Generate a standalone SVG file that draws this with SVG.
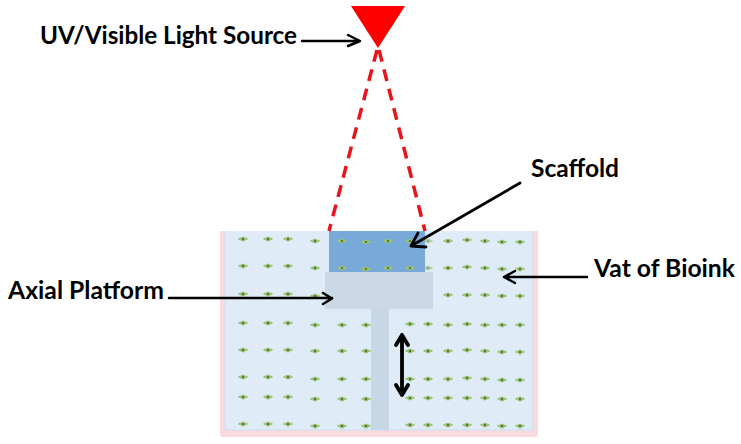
<svg xmlns="http://www.w3.org/2000/svg" xmlns:xlink="http://www.w3.org/1999/xlink" width="741" height="444" viewBox="0 0 741 444">
<style>
text{font-family:Lato,"Open Sans","Liberation Sans",sans-serif;font-weight:700;font-size:25px;fill:#000}
.a{fill:none;stroke:#000;stroke-width:2.500;stroke-linecap:round;stroke-linejoin:round}
.d{fill:none;stroke:#e8141c;stroke-width:3.500;stroke-dasharray:12 8}
</style>
<defs>
<g id="c"><ellipse cx="0" cy="0" rx="4.800" ry="1.400" fill="#9cc474"/><ellipse cx="0" cy="0" rx="2.200" ry="2.500" fill="#96bf6c"/><circle r="0.900" fill="#3a5530"/></g>
</defs>
<rect width="741" height="444" fill="#fff"/>
<g id="vat">
<path d="M220 231H538V434a3 3 0 0 1-3 3H223a3 3 0 0 1-3-3Z" fill="#f9dade"/>
<rect x="225" y="231" width="308" height="199" fill="#dfecf8"/>
<path d="M225 231V430H533V231" fill="none" stroke="#d8e0ee" stroke-width="1.500"/>
</g>
<g id="bioink">
<g id="row1">
<use xlink:href="#c" x="243" y="239"/><use xlink:href="#c" x="268" y="239"/><use xlink:href="#c" x="288" y="239"/><use xlink:href="#c" x="315" y="241"/><use xlink:href="#c" x="428" y="241" opacity=".6"/><use xlink:href="#c" x="448" y="241"/><use xlink:href="#c" x="467" y="240"/><use xlink:href="#c" x="485" y="241"/><use xlink:href="#c" x="502" y="242"/><use xlink:href="#c" x="520" y="242"/>
</g>
<g id="row2">
<use xlink:href="#c" x="243" y="266"/><use xlink:href="#c" x="268" y="266"/><use xlink:href="#c" x="288" y="266"/><use xlink:href="#c" x="315" y="268"/><use xlink:href="#c" x="428" y="268" opacity=".6"/><use xlink:href="#c" x="448" y="268"/><use xlink:href="#c" x="467" y="267"/><use xlink:href="#c" x="485" y="268"/><use xlink:href="#c" x="502" y="269"/><use xlink:href="#c" x="520" y="269"/>
</g>
<g id="row3">
<use xlink:href="#c" x="243" y="294"/><use xlink:href="#c" x="268" y="294"/><use xlink:href="#c" x="288" y="294"/><use xlink:href="#c" x="315" y="296"/><use xlink:href="#c" x="448" y="295"/><use xlink:href="#c" x="467" y="295"/><use xlink:href="#c" x="485" y="295"/><use xlink:href="#c" x="502" y="296"/><use xlink:href="#c" x="520" y="296"/>
</g>
<g id="row4">
<use xlink:href="#c" x="243" y="323"/><use xlink:href="#c" x="268" y="323"/><use xlink:href="#c" x="288" y="323"/><use xlink:href="#c" x="315" y="325"/><use xlink:href="#c" x="342" y="325"/><use xlink:href="#c" x="366" y="325"/><use xlink:href="#c" x="410" y="324"/><use xlink:href="#c" x="428" y="324"/><use xlink:href="#c" x="448" y="325"/><use xlink:href="#c" x="467" y="324"/><use xlink:href="#c" x="485" y="325"/><use xlink:href="#c" x="502" y="325"/><use xlink:href="#c" x="520" y="325"/>
</g>
<g id="row5">
<use xlink:href="#c" x="243" y="350"/><use xlink:href="#c" x="268" y="350"/><use xlink:href="#c" x="288" y="350"/><use xlink:href="#c" x="315" y="351"/><use xlink:href="#c" x="342" y="351"/><use xlink:href="#c" x="366" y="351"/><use xlink:href="#c" x="410" y="351"/><use xlink:href="#c" x="428" y="351"/><use xlink:href="#c" x="448" y="351"/><use xlink:href="#c" x="467" y="350"/><use xlink:href="#c" x="485" y="351"/><use xlink:href="#c" x="502" y="352"/><use xlink:href="#c" x="520" y="352"/>
</g>
<g id="row6">
<use xlink:href="#c" x="243" y="377"/><use xlink:href="#c" x="268" y="377"/><use xlink:href="#c" x="288" y="377"/><use xlink:href="#c" x="315" y="379"/><use xlink:href="#c" x="342" y="379"/><use xlink:href="#c" x="366" y="379"/><use xlink:href="#c" x="410" y="379"/><use xlink:href="#c" x="428" y="379"/><use xlink:href="#c" x="448" y="379"/><use xlink:href="#c" x="467" y="378"/><use xlink:href="#c" x="485" y="379"/><use xlink:href="#c" x="502" y="380"/><use xlink:href="#c" x="520" y="380"/>
</g>
<g id="row7">
<use xlink:href="#c" x="243" y="397"/><use xlink:href="#c" x="268" y="397"/><use xlink:href="#c" x="288" y="397"/><use xlink:href="#c" x="315" y="399"/><use xlink:href="#c" x="342" y="399"/><use xlink:href="#c" x="366" y="399"/><use xlink:href="#c" x="410" y="398"/><use xlink:href="#c" x="428" y="398"/><use xlink:href="#c" x="448" y="398"/><use xlink:href="#c" x="467" y="398"/><use xlink:href="#c" x="485" y="398"/><use xlink:href="#c" x="502" y="399"/><use xlink:href="#c" x="520" y="399"/>
</g>
<g id="row8">
<use xlink:href="#c" x="243" y="424"/><use xlink:href="#c" x="268" y="424"/><use xlink:href="#c" x="288" y="424"/><use xlink:href="#c" x="315" y="426"/><use xlink:href="#c" x="342" y="426"/><use xlink:href="#c" x="366" y="426"/><use xlink:href="#c" x="410" y="425"/><use xlink:href="#c" x="428" y="425"/><use xlink:href="#c" x="448" y="425"/><use xlink:href="#c" x="467" y="425"/><use xlink:href="#c" x="485" y="425"/><use xlink:href="#c" x="502" y="426"/><use xlink:href="#c" x="520" y="426"/>
</g>
</g>
<g id="platform">
<rect x="371" y="309" width="18" height="121" fill="#c8d7e5"/>
<rect x="325" y="272" width="108" height="37" fill="#cbd9e6"/>
</g>
<g id="scaffold">
<rect x="329" y="231" width="96" height="41" fill="#79a9d9"/>
<use xlink:href="#c" x="342" y="241"/><use xlink:href="#c" x="366" y="242"/><use xlink:href="#c" x="388" y="241"/><use xlink:href="#c" x="410" y="241"/>
<use xlink:href="#c" x="342" y="268"/><use xlink:href="#c" x="366" y="269"/><use xlink:href="#c" x="388" y="268"/><use xlink:href="#c" x="410" y="268"/>
</g>
<g id="source"><path d="M351 6H405L378 48Z" fill="#fe0000"/></g>
<g id="connectors">
<path class="d" d="M377 50L329 231"/>
<path class="d" d="M379 50L425 231"/>
<path class="a" d="M302 41H360M348 35L360 41L348 46"/>
<path class="a" style="stroke-width:2.800" d="M520 183L411 246M418 233L411 246L426 247"/>
<path class="a" d="M169 298H332M323 293L332 298.500L323 304"/>
<path class="a" d="M587 277H504M515 271L504 277L515 283"/>
<path class="a" style="stroke-width:3.800" d="M402 335V395M396 345L402 335L408 345M396 385L402 395L408 385"/>
</g>
<g id="labels">
<text x="40" y="44" textLength="257" lengthAdjust="spacingAndGlyphs">UV/Visible Light Source</text>
<text x="531" y="177" textLength="88" lengthAdjust="spacingAndGlyphs">Scaffold</text>
<text x="594" y="277" textLength="141" lengthAdjust="spacingAndGlyphs">Vat of Bioink</text>
<text x="8" y="299" textLength="156" lengthAdjust="spacingAndGlyphs">Axial Platform</text>
</g>
</svg>
